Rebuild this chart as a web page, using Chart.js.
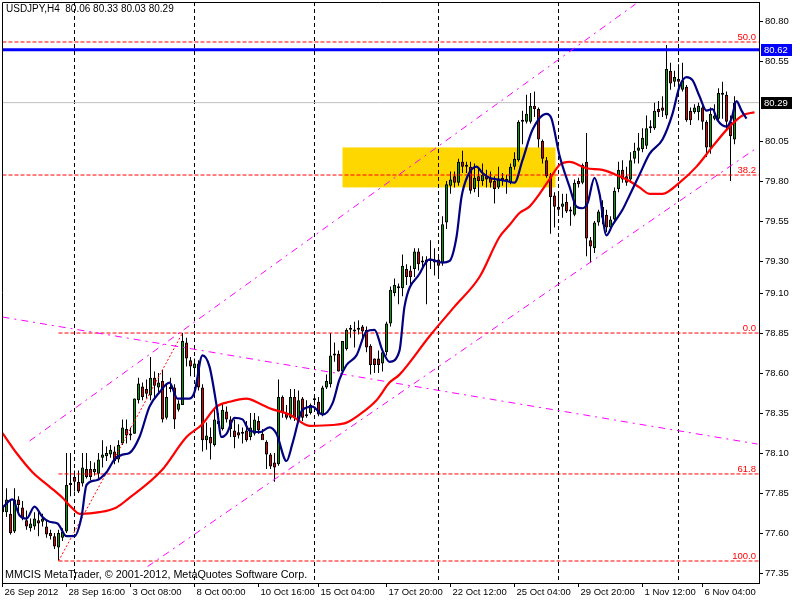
<!DOCTYPE html>
<html>
<head>
<meta charset="utf-8">
<script src="https://cdn.jsdelivr.net/npm/chart.js@4.4.1/dist/chart.umd.min.js"></script>
<style>
html,body{margin:0;padding:0;background:#fff;}
canvas{display:block;}
</style>
</head>
<body>
<canvas id="c" width="800" height="600"></canvas>
<script>
// ---------------- DATA ----------------
const symbolName = 'USDJPY';
const timeframe = 'H4';
const copyrightText = 'MMCIS MetaTrader, \u00A9 2001-2012, MetaQuotes Software Corp.';

const opens = [
77.77,77.73,77.72,77.61,77.81,77.76,77.68,77.63,77.64,77.68,
77.67,77.64,77.60,77.58,77.51,77.57,77.61,77.90,77.95,77.92,
77.91,78.00,78.00,77.98,77.97,78.07,78.08,78.09,78.11,78.06,
78.16,78.25,78.22,78.22,78.43,78.515,78.50,78.46,78.57,78.51,
78.55,78.32,78.51,78.51,78.37,78.40,78.79,78.68,78.63,78.66,
78.51,78.18,78.20,78.15,78.30,78.25,78.36,78.31,78.24,78.23,
78.22,78.24,78.20,78.22,78.30,78.22,78.17,78.09,78.04,78.03,
78.45,78.35,78.32,78.45,78.31,78.44,78.34,78.35,78.43,78.42,
78.34,78.51,78.53,78.71,78.72,78.61,78.75,78.88,78.86,78.87,
78.89,78.87,78.77,78.69,78.69,78.66,78.73,78.91,79.10,79.13,
79.13,79.25,79.24,79.25,79.36,79.29,79.29,79.30,79.31,79.31,
79.29,79.54,79.77,79.83,79.79,79.92,79.89,79.89,79.75,79.83,
79.80,79.83,79.82,79.80,79.76,79.82,79.80,79.79,79.89,79.93,
80.17,80.17,80.17,80.27,80.25,80.05,79.93,79.83,79.71,79.64,
79.64,79.67,79.62,79.59,79.80,79.79,79.92,79.43,79.38,79.54,
79.64,79.59,79.51,79.56,79.75,79.87,79.83,79.81,79.94,79.99,
80.00,80.02,80.13,80.13,80.25,80.26,80.21,80.49,80.42,80.44,
80.37,80.39,80.24,80.23,80.23,80.26,80.17,80.01,80.19,80.19,
80.34,80.34,80.17,80.06
];
const highs = [
77.81,77.88,77.81,77.88,77.83,77.80,77.74,77.69,77.73,77.74,
77.72,77.68,77.62,77.60,77.62,77.63,78.10,78.10,77.99,77.99,
78.10,78.10,78.05,78.04,78.10,78.18,78.14,78.15,78.14,78.18,
78.31,78.31,78.26,78.44,78.57,78.54,78.56,78.70,78.61,78.60,
78.62,78.53,78.57,78.53,78.43,78.85,78.82,78.70,78.69,78.68,
78.53,78.29,78.26,78.38,78.35,78.41,78.39,78.33,78.31,78.28,
78.26,78.30,78.35,78.35,78.33,78.25,78.18,78.10,78.10,78.56,
78.46,78.40,78.50,78.50,78.49,78.45,78.43,78.41,78.45,78.45,
78.52,78.59,78.85,78.79,78.74,78.80,78.88,78.90,78.92,78.93,
78.90,78.89,78.78,78.69,78.74,78.74,78.92,79.14,79.19,79.16,
79.34,79.28,79.27,79.38,79.38,79.33,79.33,79.43,79.38,79.33,
79.58,79.80,79.86,79.86,79.94,79.99,79.92,79.92,79.91,79.88,
79.91,79.87,79.86,79.83,79.89,79.85,79.84,79.91,79.98,80.18,
80.24,80.34,80.35,80.36,80.26,80.06,79.95,79.85,79.73,79.73,
79.72,79.72,79.64,79.81,79.82,79.91,80.10,79.45,79.55,79.62,
79.68,79.62,79.58,79.76,79.92,79.93,79.89,79.98,80.04,80.10,
80.13,80.21,80.18,80.29,80.30,80.33,80.65,80.54,80.49,80.53,
80.54,80.40,80.26,80.28,80.29,80.27,80.18,80.26,80.28,80.38,
80.42,80.36,80.21,80.33
];
const lows = [
77.70,77.70,77.59,77.60,77.72,77.68,77.62,77.61,77.62,77.58,
77.64,77.57,77.56,77.50,77.43,77.55,77.60,77.83,77.86,77.85,
77.89,77.94,77.93,77.96,77.94,78.01,78.05,78.07,78.03,78.04,
78.15,78.16,78.18,78.22,78.41,78.43,78.44,78.43,78.45,78.48,
78.29,78.31,78.48,78.25,78.36,78.40,78.64,78.58,78.60,78.49,
78.11,78.12,78.06,78.14,78.27,78.24,78.29,78.20,78.13,78.19,
78.16,78.17,78.18,78.21,78.22,78.19,78.00,78.00,77.92,78.02,
78.32,78.31,78.31,78.30,78.30,78.30,78.32,78.34,78.41,78.33,
78.33,78.50,78.51,78.67,78.61,78.60,78.74,78.82,78.76,78.84,
78.80,78.73,78.59,78.60,78.60,78.61,78.71,78.89,79.08,79.03,
79.08,79.15,79.14,79.20,79.24,79.25,79.03,79.25,79.21,79.20,
79.27,79.50,79.72,79.76,79.77,79.85,79.85,79.72,79.73,79.70,
79.77,79.76,79.76,79.66,79.75,79.77,79.72,79.78,79.87,79.92,
80.03,80.16,80.16,80.20,80.01,79.91,79.82,79.47,79.51,79.59,
79.57,79.60,79.52,79.58,79.76,79.78,79.33,79.29,79.35,79.52,
79.53,79.48,79.49,79.54,79.73,79.79,79.77,79.79,79.91,79.91,
79.98,80.00,80.10,80.12,80.20,80.20,80.19,80.37,80.39,80.35,
80.36,80.17,80.15,80.22,80.18,80.12,79.95,79.97,80.18,80.17,
80.19,80.12,79.80,80.03
];
const closes = [
77.73,77.81,77.60,77.81,77.775,77.69,77.64,77.66,77.69,77.66,
77.69,77.59,77.58,77.515,77.60,77.61,77.90,77.91,77.92,77.86,
78.01,77.95,77.95,78.00,78.06,78.09,78.10,78.12,78.05,78.15,
78.26,78.21,78.21,78.44,78.535,78.45,78.47,78.57,78.52,78.54,
78.31,78.45,78.50,78.31,78.41,78.80,78.69,78.64,78.66,78.51,
78.18,78.21,78.16,78.31,78.28,78.37,78.31,78.25,78.20,78.21,
78.23,78.18,78.26,78.31,78.24,78.18,78.09,78.015,78.01,78.45,
78.35,78.32,78.45,78.32,78.43,78.32,78.33,78.40,78.44,78.34,
78.51,78.55,78.71,78.72,78.61,78.80,78.87,78.87,78.87,78.88,
78.86,78.76,78.65,78.65,78.65,78.73,78.91,79.12,79.15,79.135,
79.27,79.20,79.20,79.36,79.28,79.30,79.31,79.30,79.29,79.27,
79.53,79.78,79.81,79.79,79.92,79.89,79.90,79.74,79.82,79.80,
79.84,79.81,79.79,79.75,79.81,79.80,79.81,79.89,79.94,80.17,
80.17,80.22,80.27,80.25,80.06,79.94,79.83,79.70,79.64,79.62,
79.66,79.61,79.61,79.79,79.78,79.90,79.44,79.39,79.54,79.61,
79.57,79.51,79.56,79.74,79.87,79.81,79.79,79.93,79.99,80.01,
80.07,80.13,80.135,80.24,80.23,80.24,80.50,80.41,80.45,80.42,
80.43,80.18,80.18,80.26,80.27,80.17,80.01,80.22,80.21,80.35,
80.34,80.17,80.08,80.29
];

// moving averages (bar index, price)
const blueMaBars = [0,2.5,4.25,6,8,10,11.75,13.75,16,18,19.75,21,23.5,26,28,30,31.75,34.25,36.75,39.25,41.75,43.75,46.75,48,50,51.75,53.5,54.75,56,58,60,61.75,64.25,66.75,68.5,71,72.5,75,77.5,80,82.5,84.25,86,88.5,91,93,95,96.75,99.25,100.5,104.25,106.75,110,111.75,113.5,114.75,116.25,118.5,120,121.75,123.75,126,128,130,132.5,136,137.25,139.25,141.75,143.5,145,146.25,148,149.25,151,152.5,155,156.75,159.25,161.75,165,167.5,169.25,171,172.5,174.25,176,177.5,178.75,181,182.25,183.5,184.75,186];
const blueMaValues = [77.76,77.81,77.71,77.69,77.765,77.70,77.67,77.66,77.58,77.58,77.70,77.90,77.93,77.98,78.06,78.09,78.10,78.20,78.39,78.48,78.54,78.44,78.44,78.48,78.71,78.64,78.40,78.20,78.22,78.32,78.31,78.24,78.23,78.26,78.22,78.05,78.16,78.37,78.39,78.34,78.41,78.56,78.65,78.71,78.86,78.87,78.74,78.67,78.74,79.015,79.22,79.31,79.29,79.30,79.45,79.70,79.83,79.89,79.85,79.82,79.81,79.80,79.79,79.93,80.12,80.22,80.19,79.96,79.765,79.64,79.63,79.66,79.82,79.72,79.46,79.525,79.62,79.71,79.84,79.97,80.06,80.22,80.39,80.45,80.43,80.33,80.24,80.25,80.18,80.14,80.19,80.30,80.24,80.19];
const redMaBars = [0,3.5,7.5,11.75,15,17.25,19.25,24.25,28.5,31.25,39.75,46,49.75,53.5,56.75,61,64.25,66.75,71.75,76.75,82.5,86,89.25,93.5,96.75,99.25,106.75,113,119.25,124.25,126.75,129.25,131.75,136.75,139.25,141.75,146,150,154.25,156.75,159.25,161.75,165,169.25,173.5,177.5,181.75,185,188];
const redMaValues = [78.225,78.10,77.98,77.89,77.82,77.76,77.72,77.73,77.76,77.81,77.99,78.20,78.275,78.39,78.42,78.44,78.41,78.38,78.34,78.27,78.275,78.29,78.34,78.43,78.54,78.59,78.83,79.015,79.20,79.45,79.525,79.60,79.64,79.81,79.90,79.92,79.88,79.87,79.83,79.80,79.76,79.72,79.72,79.79,79.89,80.015,80.14,80.21,80.23];

// drawn objects (bar index / price)
const upperChannelBars = [6.75, 158.25];
const upperChannelPrices = [78.175, 80.906];
const lowerChannelBars = [36.25, 188.75];
const lowerChannelPrices = [77.39, 80.01];
const fallingLineBars = [0, 188.75];
const fallingLinePrices = [78.95, 78.156];
const fibTrendBars = [14, 45];
const fibTrendPrices = [77.425, 78.85];
const fibLabels = ['50.0', '38.2', '0.0', '61.8', '100.0'];
const fibPrices = [80.669, 79.8375, 78.85, 77.969, 77.425];
const fibStartBars = [0, 0, 14, 14, 14];
const zoneBars = [85, 138.25];
const zonePrices = [79.76, 80.01];
const resistancePrice = 80.62;
const bidPrice = 80.29;

// axes
const gridBars = [18, 48, 78, 109, 139, 169];
const xLabelBars = [0, 16, 32, 48, 64, 79, 96, 112, 128, 144, 160, 175];
const xLabelTexts = ['26 Sep 2012','28 Sep 16:00','3 Oct 08:00','8 Oct 00:00','10 Oct 16:00','15 Oct 04:00','17 Oct 20:00','22 Oct 12:00','25 Oct 04:00','29 Oct 20:00','1 Nov 12:00','6 Nov 04:00'];
const yTickValues = [80.80, 80.55, 80.05, 79.80, 79.55, 79.30, 79.10, 78.85, 78.60, 78.35, 78.10, 77.85, 77.60, 77.35];
const xMin = -0.125, xMax = 189.125;
const yMin = 77.2875, yMax = 80.919;

// ---------------- BUILD ----------------
const FONT = '"Liberation Sans", Arial, sans-serif';
Chart.defaults.font.family = FONT;
Chart.defaults.font.size = 9.5;
Chart.defaults.color = '#000';

const idx = opens.map((_, i) => i);
const upColor = '#00a000', downColor = '#e00000';
const wickData = idx.map(i => ({x: i, y: [lows[i], highs[i]]}));
const bodyData = idx.map(i => ({x: i, y: [opens[i], closes[i]]}));
const bodyColors = idx.map(i => closes[i] >= opens[i] ? upColor : downColor);
const pts = (bx, py) => bx.map((b, i) => ({x: b, y: py[i]}));

const lineBase = {type: 'line', pointRadius: 0, borderWidth: 1, fill: false, tension: 0};

const datasets = [
  {type: 'bar', data: wickData, backgroundColor: '#000', borderWidth: 0, barThickness: 1, grouped: false, inflateAmount: 0, order: 20},
  {type: 'bar', data: bodyData, backgroundColor: bodyColors, borderColor: '#000', borderWidth: 1, borderSkipped: false, barThickness: 3, minBarLength: 2, grouped: false, inflateAmount: 0, order: 19},
];
fibLabels.forEach((l, k) => {
  datasets.push({...lineBase, data: [{x: fibStartBars[k], y: fibPrices[k]}, {x: xMax, y: fibPrices[k]}], borderColor: '#ff0000', borderDash: [4, 2], order: 15});
});
datasets.push({...lineBase, data: [{x: xMin, y: bidPrice}, {x: xMax, y: bidPrice}], borderColor: '#c0c0c0', order: 25});
datasets.push({...lineBase, data: [{x: xMin, y: resistancePrice}, {x: xMax, y: resistancePrice}], borderColor: '#0000ff', borderWidth: 3, order: 14});
datasets.push({...lineBase, data: pts(fibTrendBars, fibTrendPrices), borderColor: '#ff0000', borderDash: [2, 2], order: 13});
datasets.push({...lineBase, data: pts(upperChannelBars, upperChannelPrices), borderColor: '#ff00ff', borderDash: [7, 5, 2, 5], order: 12});
datasets.push({...lineBase, data: pts(lowerChannelBars, lowerChannelPrices), borderColor: '#ff00ff', borderDash: [7, 5, 2, 5], order: 12});
datasets.push({...lineBase, data: pts(fallingLineBars, fallingLinePrices), borderColor: '#ff00ff', borderDash: [7, 5, 2, 5], order: 12});
datasets.push({...lineBase, data: pts(redMaBars, redMaValues), borderColor: '#ff0000', borderWidth: 2.2, cubicInterpolationMode: 'monotone', order: 2});
datasets.push({...lineBase, data: pts(blueMaBars, blueMaValues), borderColor: '#000080', borderWidth: 2.2, cubicInterpolationMode: 'monotone', order: 1});

const overlay = {
  id: 'overlay',
  beforeDatasetsDraw(chart) {
    const {ctx, chartArea: a, scales: {x, y}} = chart;
    ctx.save();
    ctx.fillStyle = '#ffd700';
    const x0 = x.getPixelForValue(zoneBars[0]), x1 = x.getPixelForValue(zoneBars[1]);
    const y0 = y.getPixelForValue(zonePrices[1]), y1 = y.getPixelForValue(zonePrices[0]);
    ctx.fillRect(x0, y0, x1 - x0, y1 - y0);
    ctx.strokeStyle = '#000';
    ctx.lineWidth = 1;
    ctx.setLineDash([4, 3]);
    gridBars.forEach(b => {
      const px = x.getPixelForValue(b);
      ctx.beginPath(); ctx.moveTo(px, a.top); ctx.lineTo(px, a.bottom); ctx.stroke();
    });
    ctx.restore();
  },
  afterDraw(chart) {
    const {ctx, chartArea: a, scales: {y}} = chart;
    ctx.save();
    // frame left/top
    ctx.strokeStyle = '#000'; ctx.lineWidth = 1;
    ctx.beginPath();
    ctx.moveTo(a.left + 0.5, a.bottom); ctx.lineTo(a.left + 0.5, a.top + 0.5); ctx.lineTo(a.right, a.top + 0.5);
    ctx.stroke();
    // title
    const n = opens.length - 1;
    ctx.fillStyle = '#000';
    ctx.font = '10px ' + FONT;
    ctx.textBaseline = 'alphabetic';
    ctx.textAlign = 'left';
    ctx.fillText(symbolName + ',' + timeframe + '  ' + [opens[n], highs[n], lows[n], closes[n]].map(v => v.toFixed(2)).join(' '), 6, 12);
    ctx.font = '10.8px ' + FONT;
    ctx.fillText(copyrightText, 5, 578);
    // fib labels
    ctx.fillStyle = '#ff0000';
    ctx.font = '9.5px ' + FONT;
    ctx.textAlign = 'right';
    fibLabels.forEach((l, k) => {
      ctx.fillText(l, a.right - 3, y.getPixelForValue(fibPrices[k]) - 2);
    });
    // price boxes
    ctx.textAlign = 'left';
    ctx.textBaseline = 'middle';
    [[resistancePrice, '#0000ff'], [closes[n], '#000000']].forEach(([p, c]) => {
      const py = Math.round(y.getPixelForValue(p));
      ctx.fillStyle = c;
      ctx.fillRect(a.right + 2, py - 6, 31, 12);
      ctx.fillStyle = '#fff';
      ctx.fillText(p.toFixed(2), a.right + 5, py + 0.5);
    });
    ctx.restore();
  }
};

new Chart(document.getElementById('c'), {
  type: 'line',
  data: {datasets},
  options: {
    responsive: false,
    animation: false,
    events: [],
    layout: {padding: {left: 2, top: 2, right: 0, bottom: 0}},
    plugins: {legend: {display: false}, tooltip: {enabled: false}},
    scales: {
      x: {
        type: 'linear', position: 'bottom', min: xMin, max: xMax, offset: false,
        afterFit: s => { s.height = 17; s.paddingLeft = 0; s.paddingRight = 0; },
        afterBuildTicks: s => { s.ticks = xLabelBars.map(v => ({value: v})); },
        grid: {drawOnChartArea: false, drawTicks: true, tickLength: 4, color: '#000', offset: false},
        border: {display: true, color: '#000'},
        ticks: {autoSkip: false, maxRotation: 0, minRotation: 0, align: 'start', labelOffset: 2, padding: 0,
                callback: (v, i) => xLabelTexts[i], font: {size: 9.5}}
      },
      y: {
        type: 'linear', position: 'right', min: yMin, max: yMax,
        afterFit: s => { s.width = 41; s.paddingTop = 0; s.paddingBottom = 0; },
        afterBuildTicks: s => { s.ticks = yTickValues.map(v => ({value: v})); },
        grid: {drawOnChartArea: false, drawTicks: true, tickLength: 4, color: '#000'},
        border: {display: true, color: '#000'},
        ticks: {padding: 2, callback: v => Number(v).toFixed(2), font: {size: 9.5}}
      }
    }
  },
  plugins: [overlay]
});
</script>
</body>
</html>
